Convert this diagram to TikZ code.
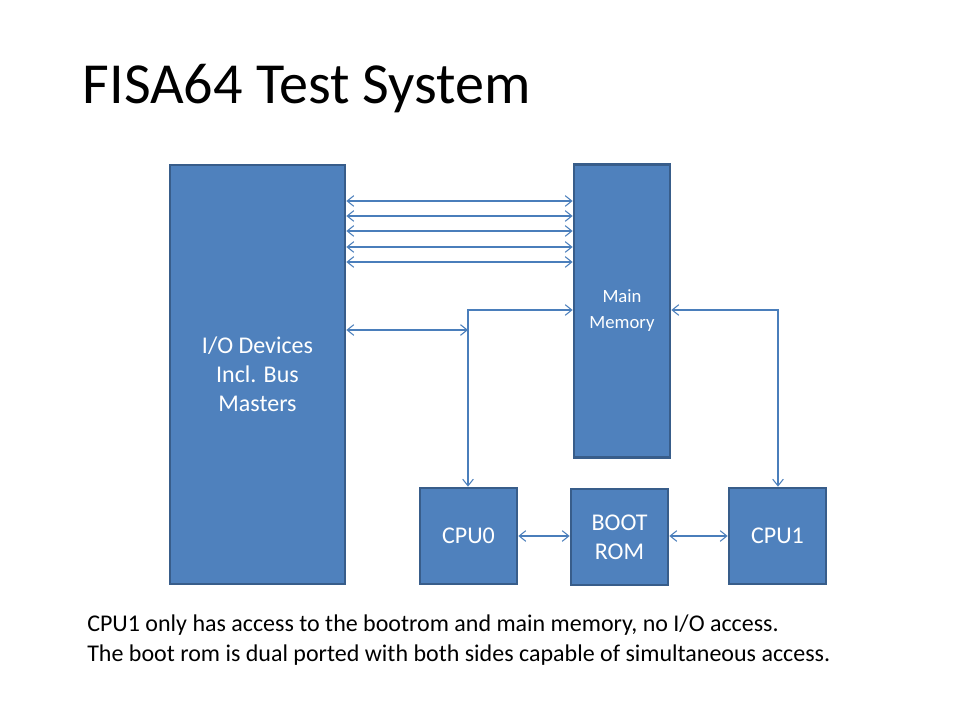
\documentclass[tikz,border=0pt]{standalone}
\usepackage{fontspec}
\setmainfont{Carlito}
\usetikzlibrary{arrows.meta}
\definecolor{boxfill}{HTML}{4F81BD}
\definecolor{boxline}{HTML}{385D8A}
\definecolor{wire}{HTML}{4A7EBB}
\begin{document}
\begin{tikzpicture}[x=0.75pt,y=-0.75pt,
  blk/.style={draw=boxline, fill=boxfill, line width=2pt, text=white, align=center, inner sep=0pt, font=\fontsize{18}{21.6}\selectfont},
  biarrow/.style={draw=wire, line width=0.8pt, {Straight Barb[length=5pt,width=8pt]}-{Straight Barb[length=5pt,width=8pt]}}]
\useasboundingbox (0,0) rectangle (960,720);
\node[anchor=base west, font=\fontsize{43.6}{50}\selectfont] (title) at (78,104) {FISA64 Test System};
\node[blk, minimum width=175*0.75pt, minimum height=419*0.75pt] (io) at (257.5,374.5) {I/O Devices\\Incl. Bus\\Masters};
\node[blk, minimum width=96*0.75pt, minimum height=293*0.75pt, font=\fontsize{14}{19.5}\selectfont] (mem) at (622,311) {Main\\Memory};
\node[blk, minimum width=97*0.75pt, minimum height=96*0.75pt] (cpu0) at (468.5,536) {CPU0};
\node[blk, minimum width=97*0.75pt, minimum height=96*0.75pt] (rom) at (619.5,537) {BOOT\\ROM};
\node[blk, minimum width=97*0.75pt, minimum height=96*0.75pt] (cpu1) at (777.5,536) {CPU1};
\foreach \yy/\nm in {201/a,216/b,231/c,247/d,262/e}{
  \coordinate (h\nm) at (0,\yy);
  \draw[biarrow] (io.east |- h\nm) -- (mem.west |- h\nm);
}
\coordinate (lj) at (468,310);
\coordinate (rj) at (778,310);
\coordinate (iolvl) at (0,330);
\draw[biarrow] (mem.west |- lj) -- (lj) -- (cpu0.north -| lj);
\draw[biarrow] (mem.east |- rj) -- (rj) -- (cpu1.north -| rj);
\draw[biarrow] (io.east |- iolvl) -- (lj |- iolvl);
\draw[biarrow] (cpu0.east) -- (rom.west |- cpu0.east);
\draw[biarrow] (rom.east |- cpu1.west) -- (cpu1.west);
\node[anchor=west, align=left, font=\fontsize{18}{22.5}\selectfont, inner sep=0pt] (note) at (87,640) {CPU1 only has access to the bootrom and main memory, no I/O access.\\The boot rom is dual ported with both sides capable of simultaneous access.};
\end{tikzpicture}
\end{document}
